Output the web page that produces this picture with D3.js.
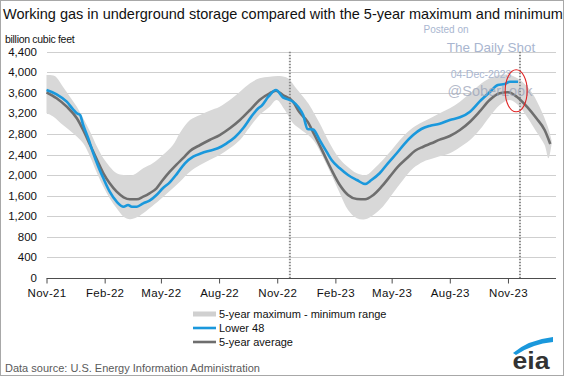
<!DOCTYPE html>
<html><head><meta charset="utf-8">
<script src="https://cdn.jsdelivr.net/npm/d3@7"></script>
<style>body{margin:0;background:#fff}svg{display:block;font-family:"Liberation Sans",Arial,sans-serif}</style>
</head><body><svg id="c" width="564" height="376"></svg>
<script>
// ---------------- data ----------------
const lowerDates = ["2021-11-01","2021-11-17","2021-12-03","2021-12-13","2021-12-19","2021-12-24","2021-12-29","2022-01-06","2022-01-14","2022-01-22","2022-01-30","2022-02-09","2022-02-20","2022-03-03","2022-03-10","2022-03-16","2022-03-24","2022-04-03","2022-04-13","2022-04-24","2022-05-04","2022-05-15","2022-05-26","2022-06-08","2022-06-21","2022-07-04","2022-07-17","2022-07-30","2022-08-13","2022-08-26","2022-09-08","2022-09-21","2022-10-02","2022-10-07","2022-10-18","2022-10-30","2022-11-10","2022-11-18","2022-11-26","2022-12-04","2022-12-12","2022-12-19","2022-12-28","2023-01-07","2023-01-18","2023-01-26","2023-02-08","2023-02-21","2023-03-07","2023-03-20","2023-03-30","2023-04-12","2023-04-25","2023-05-09","2023-05-22","2023-06-04","2023-06-17","2023-07-01","2023-07-16","2023-08-01","2023-08-17","2023-09-02","2023-09-17","2023-10-03","2023-10-16","2023-10-27","2023-11-04","2023-11-17"];
const lowerValues = [3655,3572,3428,3280,3202,3170,2975,2716,2425,2165,1938,1678,1484,1386,1419,1386,1386,1452,1503,1614,1744,1860,2020,2230,2359,2425,2475,2522,2619,2736,2911,3137,3300,3344,3525,3655,3513,3474,3428,3331,3170,2897,2885,2683,2456,2294,2133,2003,1905,1828,1905,2036,2230,2425,2619,2780,2897,2960,3000,3072,3124,3234,3428,3611,3753,3772,3817,3817];

const avgDates = ["2021-11-01","2021-11-17","2021-12-03","2021-12-19","2021-12-29","2022-01-09","2022-01-20","2022-01-30","2022-02-09","2022-02-20","2022-03-03","2022-03-13","2022-03-24","2022-04-03","2022-04-13","2022-04-24","2022-05-04","2022-05-15","2022-05-26","2022-06-05","2022-06-16","2022-07-02","2022-07-17","2022-08-02","2022-08-18","2022-09-03","2022-09-19","2022-10-04","2022-10-20","2022-10-30","2022-11-10","2022-11-26","2022-12-06","2022-12-19","2022-12-30","2023-01-12","2023-01-26","2023-02-08","2023-02-21","2023-03-07","2023-03-20","2023-04-02","2023-04-15","2023-04-28","2023-05-11","2023-05-25","2023-06-07","2023-06-20","2023-07-03","2023-07-16","2023-08-01","2023-08-17","2023-09-02","2023-09-17","2023-10-03","2023-10-19","2023-11-01","2023-11-15","2023-12-01","2023-12-16","2023-12-29","2024-01-07"];
const avgValues = [3611,3494,3331,3105,2878,2586,2294,2036,1841,1678,1569,1530,1530,1581,1647,1744,1905,2067,2210,2330,2470,2586,2683,2780,2911,3072,3267,3461,3591,3642,3558,3428,3225,3040,2780,2456,2100,1808,1614,1536,1530,1614,1775,1970,2165,2327,2475,2553,2619,2690,2761,2878,3039,3234,3461,3591,3611,3525,3331,3105,2878,2605];

const rangeMaxDates = ["2021-11-01","2021-11-14","2021-11-27","2021-12-08","2021-12-19","2021-12-29","2022-01-09","2022-01-20","2022-01-30","2022-02-09","2022-02-20","2022-03-03","2022-03-18","2022-04-03","2022-04-18","2022-05-04","2022-05-20","2022-05-31","2022-06-16","2022-07-02","2022-07-17","2022-08-02","2022-08-18","2022-09-03","2022-09-19","2022-10-04","2022-10-20","2022-11-05","2022-11-18","2022-11-29","2022-12-12","2022-12-20","2022-12-28","2023-01-10","2023-01-23","2023-02-05","2023-02-19","2023-03-07","2023-03-22","2023-04-04","2023-04-17","2023-05-01","2023-05-14","2023-05-30","2023-06-15","2023-07-01","2023-07-16","2023-08-01","2023-08-17","2023-09-02","2023-09-17","2023-10-03","2023-10-19","2023-11-04","2023-11-20","2023-12-06","2023-12-21","2024-01-03","2024-01-09"];
const rangeMaxValues = [3947,3928,3720,3525,3331,3105,2845,2553,2327,2165,2036,2003,2003,2133,2230,2392,2586,2820,3072,3170,3253,3331,3461,3623,3786,3883,3914,3928,3883,3720,3525,3397,3234,2942,2619,2359,2178,2036,2003,2133,2294,2489,2683,2878,3008,3105,3202,3300,3428,3591,3753,3883,3947,3947,3850,3655,3331,2942,2683];

const rangeMinDates = ["2021-11-01","2021-11-12","2021-11-27","2021-12-13","2021-12-29","2022-01-09","2022-01-20","2022-01-30","2022-02-09","2022-02-20","2022-03-03","2022-03-13","2022-03-24","2022-04-03","2022-04-13","2022-04-29","2022-05-15","2022-05-31","2022-06-16","2022-07-02","2022-07-17","2022-08-02","2022-08-18","2022-09-03","2022-09-19","2022-10-04","2022-10-20","2022-10-31","2022-11-13","2022-11-26","2022-12-09","2022-12-20","2022-12-30","2023-01-12","2023-01-26","2023-02-08","2023-02-21","2023-03-07","2023-03-20","2023-04-02","2023-04-17","2023-05-03","2023-05-19","2023-06-04","2023-06-20","2023-07-06","2023-07-16","2023-08-01","2023-08-17","2023-09-02","2023-09-17","2023-10-03","2023-10-19","2023-11-04","2023-11-17","2023-12-01","2023-12-16","2023-12-29","2024-01-04","2024-01-09"];
const rangeMinValues = [3202,3137,2975,2813,2619,2359,2036,1775,1550,1355,1192,1141,1180,1258,1355,1517,1690,1872,2067,2197,2294,2392,2522,2683,2942,3170,3331,3461,3267,3008,2880,2780,2651,2359,2003,1647,1322,1161,1141,1225,1386,1647,1905,2133,2261,2327,2365,2425,2541,2683,2878,3137,3364,3461,3364,3137,2845,2586,2327,2600];

const xTickDates = ["2021-11-01","2022-02-01","2022-05-01","2022-08-01","2022-11-01","2023-02-01","2023-05-01","2023-08-01","2023-11-01"];
const xTickLabels = ["Nov-21","Feb-22","May-22","Aug-22","Nov-22","Feb-23","May-23","Aug-23","Nov-23"];
const yTickValues = [0,400,800,1200,1600,2000,2400,2800,3200,3600,4000,4400];
const markerDates = ["2022-11-21","2023-11-20"];
const highlightDate = "2023-11-14";
const highlightValue = 3640;

const titleText = "Working gas in underground  storage compared with the 5-year maximum and minimum";
const unitText = "billion cubic feet";
const legendLabels = ["5-year maximum - minimum range","Lower 48","5-year average"];
const sourceText = "Data source:  U.S. Energy Information Administration";

// ---------------- setup ----------------
const parse = d3.timeParse("%Y-%m-%d");
const svg = d3.select("#c");
const W = 564, H = 376;
const colBlue = "#1a98dc", colAvg = "#6e6e6e", colBand = "#d8d8d8";

const x = d3.scaleTime().domain([parse("2021-11-01"), parse("2024-01-16")]).range([46.5, 556]);
const y = d3.scaleLinear().domain([0, 4400]).range([278, 51.7]);

const zip = (ds, vs) => ds.map((d, i) => ({date: parse(d), v: vs[i]}));
const lower = zip(lowerDates, lowerValues);
const avg = zip(avgDates, avgValues);
const rMax = zip(rangeMaxDates, rangeMaxValues);
const rMin = zip(rangeMinDates, rangeMinValues);

// background & frame
svg.append("rect").attr("x",0.5).attr("y",0.5).attr("width",W-1).attr("height",H-1)
  .attr("fill","#fff").attr("stroke","#a8a8a8");

// title
svg.append("text").attr("x",3).attr("y",19).attr("font-size",14.5).attr("fill","#111")
  .text(titleText);
svg.append("text").attr("x",5).attr("y",43).attr("font-size",10.5).attr("fill","#111")
  .attr("letter-spacing",-0.3).text(unitText);

// gridlines
svg.append("g").selectAll("line").data(yTickValues.filter(v=>v>0)).join("line")
  .attr("x1",47).attr("x2",556).attr("y1",d=>Math.round(y(d))+0.5).attr("y2",d=>Math.round(y(d))+0.5)
  .attr("stroke","#cfcfcf").attr("stroke-width",1);

// y labels
svg.append("g").selectAll("text").data(yTickValues).join("text")
  .attr("x",37).attr("y",d=>y(d)).attr("dy","0.35em").attr("text-anchor","end")
  .attr("font-size",11.5).attr("fill","#111").text(d=>d3.format(",")(d));

// band
const edge = d3.line().x(d=>x(d.date)).y(d=>y(d.v)).curve(d3.curveCatmullRom.alpha(0.5));
const upperPath = edge(rMax);
const lowerPath = edge(rMin.slice().reverse());
svg.append("path").attr("d", upperPath + "L" + lowerPath.slice(1) + "Z").attr("fill", colBand);

// dotted markers
svg.append("g").selectAll("line").data(markerDates).join("line")
  .attr("x1",d=>x(parse(d))).attr("x2",d=>x(parse(d))).attr("y1",y(4400)).attr("y2",y(0))
  .attr("stroke","#8a8a8a").attr("stroke-width",2).attr("stroke-dasharray","1.5,1.5");

// lines
const lineGen = d3.line().x(d=>x(d.date)).y(d=>y(d.v)).curve(d3.curveMonotoneX);
svg.append("path").datum(avg).attr("d",lineGen).attr("fill","none")
  .attr("stroke",colAvg).attr("stroke-width",2.6).attr("stroke-linejoin","round");
svg.append("path").datum(lower).attr("d",lineGen).attr("fill","none")
  .attr("stroke",colBlue).attr("stroke-width",2.6).attr("stroke-linejoin","round");

// x axis
const xAxis = d3.axisBottom(x).tickValues(xTickDates.map(parse)).tickFormat((d,i)=>xTickLabels[i])
  .tickSizeInner(5).tickSizeOuter(0);
const gx = svg.append("g").attr("transform",`translate(0,${Math.round(y(0))+0.5})`).call(xAxis);
gx.select(".domain").attr("stroke","#4d4d4d").attr("d",`M${x.range()[0]},0H${x.range()[1]}`);
gx.selectAll(".tick line").attr("stroke","#4d4d4d");
gx.selectAll(".tick text").attr("font-size",11.5).attr("fill","#111").attr("dy","0.9em")
  .attr("font-family","\"Liberation Sans\",Arial,sans-serif").attr("letter-spacing",0.3);

// watermark
const wm = svg.append("g").attr("fill","#a9b6d0");
wm.append("text").attr("x",446).attr("y",33).attr("font-size",10).attr("text-anchor","middle").text("Posted on");
wm.append("text").attr("x",491).attr("y",52).attr("font-size",13.5).attr("text-anchor","middle").text("The Daily Shot");
wm.append("text").attr("x",481).attr("y",78).attr("font-size",10.5).attr("text-anchor","middle").text("04-Dec-2023");
wm.append("text").attr("x",490).attr("y",96).attr("font-size",14.5).attr("text-anchor","middle")
  .attr("fill","#9aa3b8").attr("fill-opacity",0.75).text("@SoberLook");

// red ellipse
svg.append("ellipse").attr("cx",x(parse(highlightDate))).attr("cy",y(highlightValue))
  .attr("rx",11).attr("ry",21).attr("fill","none").attr("stroke","#e02424").attr("stroke-width",1.1);

// legend
const lg = svg.append("g");
const lx0 = 193, lx1 = 216, ly = [314, 328, 342];
lg.append("rect").attr("x",lx0).attr("y",ly[0]-2.5).attr("width",lx1-lx0).attr("height",5).attr("fill","#d0d0d0");
lg.append("line").attr("x1",lx0).attr("x2",lx1).attr("y1",ly[1]).attr("y2",ly[1]).attr("stroke",colBlue).attr("stroke-width",2.6);
lg.append("line").attr("x1",lx0).attr("x2",lx1).attr("y1",ly[2]).attr("y2",ly[2]).attr("stroke",colAvg).attr("stroke-width",2.6);
lg.selectAll("text").data(legendLabels).join("text")
  .attr("x",219).attr("y",(d,i)=>ly[i]).attr("dy","0.35em").attr("font-size",11).attr("fill","#111").text(d=>d);

// source
svg.append("text").attr("x",5).attr("y",372).attr("font-size",11).attr("fill","#5a5a5a").text(sourceText);

// eia logo
svg.append("path").attr("d","M513,353 Q528,340 553,337 L553,342 Q532,344 516,355 Z").attr("fill","#1a98dc");
svg.append("text").attr("x",531).attr("y",369).attr("text-anchor","middle").attr("font-size",24)
  .attr("font-weight","bold").attr("fill","#333").attr("textLength",37).attr("lengthAdjust","spacingAndGlyphs").text("eia");
</script></body></html>
